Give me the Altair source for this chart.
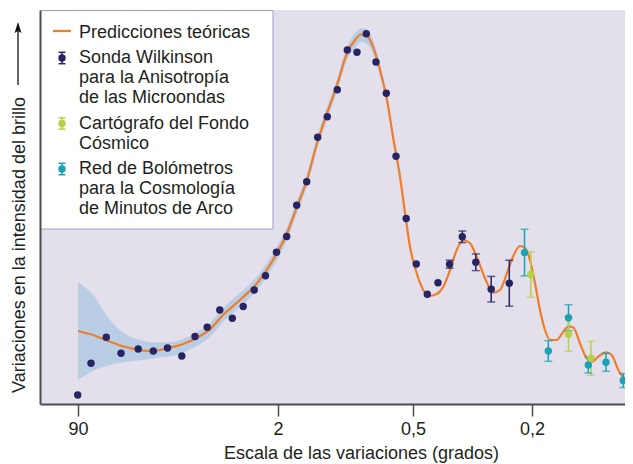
import altair as alt
import pandas as pd

FONT = "Liberation Sans"
INK = "#231f20"
AXIS = "#4d4d4d"

# ---------------- data (x: position along angular-scale axis, y: amplitude) --------------
tick_pos = [38, 238, 373, 492]
tick_lab = ["90", "2", "0,5", "0,2"]

wmap_x = [37.7, 51, 66.3, 81, 98.2, 113.3, 127.5, 141.8, 155, 167.2, 179.8, 192.3, 203.2,
          214.2, 225.5, 236.5, 246.7, 256.7, 266.7, 277.7, 287.3, 297.3, 307.3, 317, 326.3,
          336, 346.3, 356, 366.2, 376.3, 387.3, 398, 409.6, 422.3, 435.8, 451.2, 469.3]
wmap_y = [9, 40.7, 66.7, 50.7, 55, 53, 56, 48, 67.5, 76.8, 94, 85.7, 97.5,
          114, 128.3, 151.8, 167.5, 198.7, 222.3, 266.7, 287.3, 314.3, 354, 351.7, 370.3,
          342, 310.7, 247.7, 185.5, 140, 109.8, 121.3, 139.8, 167.2, 141.7, 114.8, 120.8]
wmap_err = [0] * 32 + [4, 5.8, 8.3, 12.8, 23]

acbar_x = [484.5, 508.3, 528.5, 548.3, 566, 583.3]
acbar_y = [151.4, 53, 86.3, 39, 41.7, 23.5]
acbar_err = [23.3, 10.3, 13, 8, 9, 7]

cbi_x = [490.8, 528.5, 551]
cbi_y = [129.5, 69.8, 45.7]
cbi_err = [22.8, 17, 17]

curve_x = [38, 53, 70, 87, 103, 113, 127, 143, 157, 170, 183, 200, 217, 233, 247, 257, 267,
           277, 287, 297, 307, 315, 321, 327, 333, 340, 347, 353, 360, 366, 370, 376.7, 383.3,
           389.3, 396.7, 403.3, 410, 416.7, 423.3, 430, 436.7, 445, 453.3, 460, 466.7, 473.3,
           480, 485, 490, 495, 500, 505, 510, 516.7, 523.3, 528.3, 533.3, 540, 546.7, 551.7,
           558.3, 566, 571.7, 578.3, 585, 592]
curve_y = [73, 69, 62.3, 56.7, 53.3, 53, 55.7, 60, 66.3, 74.7, 89, 104, 120.7, 144, 170.7,
           197.3, 224, 260.7, 290.7, 319, 350.7, 364, 369.5, 368, 357.3, 334, 304, 267.3,
           227.3, 184, 157.3, 130.7, 114, 108, 110, 117.3, 134, 154, 164, 160.7, 147.3, 125.7,
           111.3, 114, 130, 148, 158, 156, 144, 121, 94, 74, 64, 64, 72.3, 77.5, 76.5, 60.7,
           45.7, 42.3, 47.3, 51.7, 49, 34, 25, 22.5]

band_x = [38, 53, 70, 87, 103, 120, 137, 153, 170, 183, 200, 217, 233, 247, 257, 267, 277,
          287, 297, 307, 315, 321, 327, 333, 340, 347, 353, 360, 366]
band_lo = [24, 33, 39, 42.3, 44, 46.7, 49, 56, 67, 82, 97, 113.5, 137, 164, 191, 217.5, 254,
           284, 312, 344, 356, 362, 360, 350, 328, 299, 263, 223, 181]
band_hi = [122, 109, 84, 69, 63.3, 61.3, 63, 70, 81, 96, 111, 127.5, 151, 177, 204, 230.5,
           267, 297, 325, 357, 371, 376, 375, 364, 340, 309, 272, 231, 187]

series_names = ["Sonda Wilkinson", "Red de Bolómetros", "Cartógrafo del Fondo"]
series_colors = ["#262462", "#17a3b3", "#b7d043"]
curve_color = "#f07d2a"
band_color = "#b9cde4"

legend_lines = [
    ["Predicciones teóricas"],
    ["Sonda Wilkinson", "para la Anisotropía", "de las Microondas"],
    ["Cartógrafo del Fondo", "Cósmico"],
    ["Red de Bolómetros", "para la Cosmología", "de Minutos de Arco"],
]

# ---------------- tables ----------------
pts = pd.concat([
    pd.DataFrame({"x": wmap_x, "y": wmap_y, "err": wmap_err, "s": series_names[0]}),
    pd.DataFrame({"x": acbar_x, "y": acbar_y, "err": acbar_err, "s": series_names[1]}),
    pd.DataFrame({"x": cbi_x, "y": cbi_y, "err": cbi_err, "s": series_names[2]}),
], ignore_index=True)
errs = pts[pts["err"] > 0].copy()
errs["lo"] = errs["y"] - errs["err"]
errs["hi"] = errs["y"] + errs["err"]
caps = pd.concat([
    errs[["x", "s"]].assign(y=errs["lo"]),
    errs[["x", "s"]].assign(y=errs["hi"]),
], ignore_index=True)

curve = pd.DataFrame({"x": curve_x, "y": curve_y})
band = pd.DataFrame({"x": band_x, "lo": band_lo, "hi": band_hi})
one = pd.DataFrame({"k": [0]})

# ---------------- scales / axes ----------------
# the plotting frame runs to the right edge of the page; the canvas is narrower so
# the last few pixels of the frame are cut off by the page edge, as in the original
xs = alt.Scale(domain=[0, 592], range=[0, 592], nice=False, zero=False)
ys = alt.Scale(domain=[0, 394], nice=False, zero=False)
col = alt.Scale(domain=series_names, range=series_colors)

label_expr = " : ".join(f"datum.value == {p} ? '{l}'" for p, l in zip(tick_pos, tick_lab)) + " : ''"
xaxis = alt.Axis(values=tick_pos, labelExpr=label_expr, grid=False,
                 tickSize=12, tickWidth=1.5, tickColor=AXIS,
                 domainColor=AXIS, domainWidth=2,
                 labelFont=FONT, labelFontSize=18, labelColor=INK, labelPadding=4,
                 title="Escala de las variaciones (grados)", titleFont=FONT,
                 titleFontSize=18, titleFontWeight="normal", titleColor=INK,
                 titleX=321, titleY=54, titleAlign="center", titleBaseline="alphabetic",
                 zindex=1)
yaxis = alt.Axis(labels=False, ticks=False, grid=False, title=None,
                 domainColor=AXIS, domainWidth=2, zindex=1)

X = alt.X("x:Q", scale=xs, axis=xaxis)

bg_layer = alt.Chart(one).mark_rect(fill="#e3e0eb").encode(
    x=alt.value(0), x2=alt.value(600), y=alt.value(0), y2=alt.value(394))
band_layer = alt.Chart(band).mark_area(color=band_color, interpolate="monotone").encode(
    x=X, y=alt.Y("lo:Q", scale=ys, axis=yaxis), y2="hi:Q")
curve_layer = alt.Chart(curve).mark_line(color=curve_color, strokeWidth=2.2,
                                         interpolate="monotone").encode(
    x=X, y=alt.Y("y:Q", scale=ys, axis=yaxis))
err_layer = alt.Chart(errs).mark_rule(strokeWidth=1.5).encode(
    x=X, y=alt.Y("lo:Q", scale=ys, axis=yaxis), y2="hi:Q",
    color=alt.Color("s:N", scale=col, legend=None))
cap_layer = alt.Chart(caps).mark_tick(orient="horizontal", size=8, thickness=1.5).encode(
    x=X, y=alt.Y("y:Q", scale=ys, axis=yaxis),
    color=alt.Color("s:N", scale=col, legend=None))
dot_layer = alt.Chart(pts).mark_circle(size=55, opacity=1).encode(
    x=X, y=alt.Y("y:Q", scale=ys, axis=yaxis),
    color=alt.Color("s:N", scale=col, legend=None))

# ---------------- legend (drawn by hand) ----------------
layers = [bg_layer, band_layer, curve_layer, err_layer, cap_layer, dot_layer]
layers.append(alt.Chart(one).mark_rect(fill="white", stroke="#a39bc8", strokeWidth=1).encode(
    x=alt.value(0.5), x2=alt.value(233), y=alt.value(0.5), y2=alt.value(219)))

baselines = [[27.5], [53, 73, 93], [118.5, 138.5], [164, 184, 204]]
for group, bls in zip(legend_lines, baselines):
    for txt, b in zip(group, bls):
        layers.append(alt.Chart(one).mark_text(
            text=txt, font=FONT, fontSize=18, color=INK, align="left",
            baseline="alphabetic").encode(x=alt.value(39), y=alt.value(b)))

layers.append(alt.Chart(one).mark_rule(color=curve_color, strokeWidth=2.2).encode(
    x=alt.value(13), x2=alt.value(31), y=alt.value(21)))
sym_y = [48, 113.5, 159]
sym_order = [0, 2, 1]
for yy, si in zip(sym_y, sym_order):
    c = series_colors[si]
    layers.append(alt.Chart(one).mark_rule(color=c, strokeWidth=1.5).encode(
        x=alt.value(22), y=alt.value(yy - 5.7), y2=alt.value(yy + 5.7)))
    for cy in (yy - 5.7, yy + 5.7):
        layers.append(alt.Chart(one).mark_rule(color=c, strokeWidth=1.5).encode(
            x=alt.value(18.5), x2=alt.value(25.5), y=alt.value(cy)))
    layers.append(alt.Chart(one).mark_point(shape="circle", filled=True, opacity=1,
                                            size=55, color=c).encode(
        x=alt.value(22), y=alt.value(yy)))

# ---------------- y title with arrow ----------------
layers.append(alt.Chart(one).mark_text(
    text="Variaciones en la intensidad del brillo", font=FONT, fontSize=18, color=INK,
    angle=270, align="center", baseline="alphabetic").encode(
    x=alt.value(-15), y=alt.value(235)))
layers.append(alt.Chart(one).mark_rule(color="#111111", strokeWidth=1.3).encode(
    x=alt.value(-22), y=alt.value(20), y2=alt.value(75)))
layers.append(alt.Chart(one).mark_point(shape="M0,-1L0.5,0.6L0,0.3L-0.5,0.6Z", filled=True,
                                        opacity=1, size=189, color="#111111").encode(
    x=alt.value(-22), y=alt.value(18.9)))

chart = alt.layer(*layers).properties(
    width=585, height=394,
    padding={"left": 32, "top": 2, "right": 0, "bottom": 60},
    autosize=alt.AutoSizeParams(type="none"),
).configure_view(fill="#e3e0eb", stroke=None)

chart.save("out.html", embed_options={"renderer": "svg", "actions": False})
